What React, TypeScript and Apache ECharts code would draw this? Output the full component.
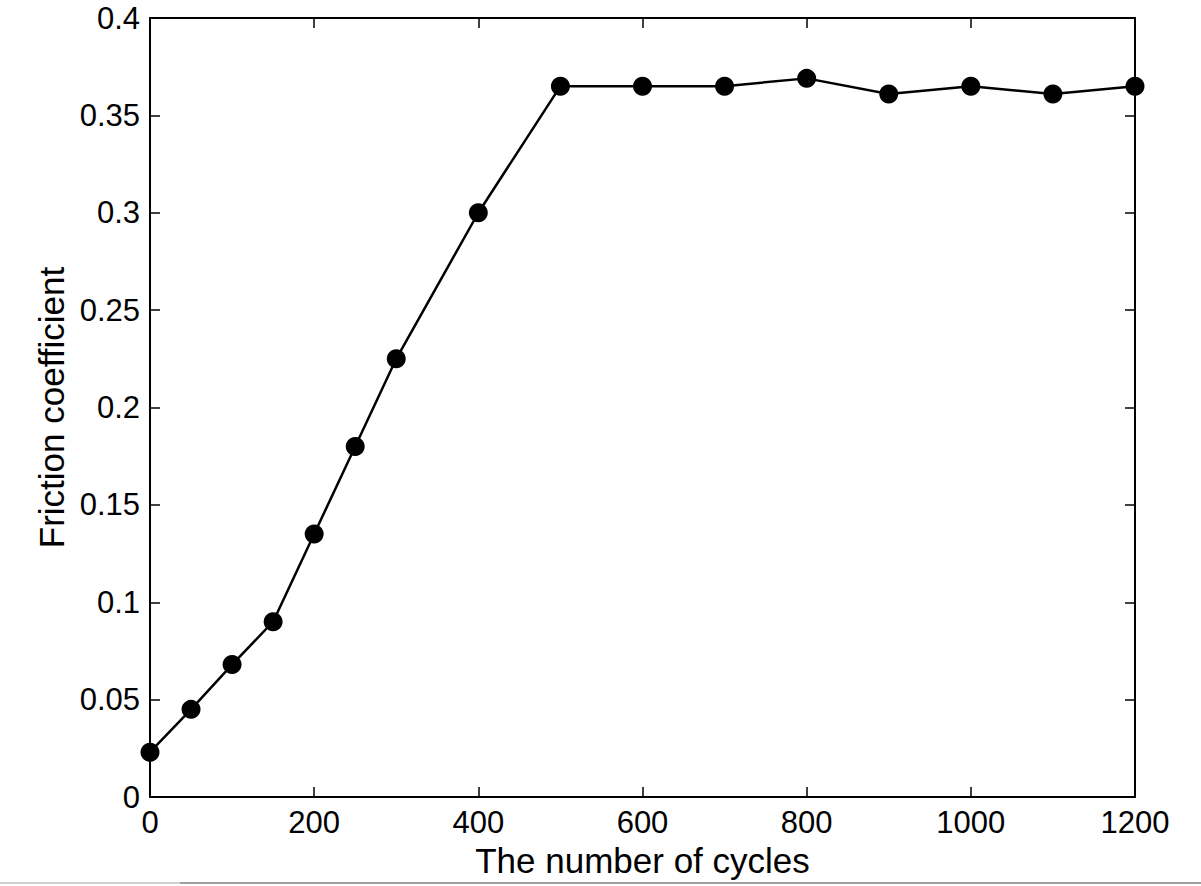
import React, { useEffect, useRef } from "react";
import * as echarts from "echarts";

const cycles = [0, 50, 100, 150, 200, 250, 300, 400, 500, 600, 700, 800, 900, 1000, 1100, 1200];
const friction = [0.023, 0.045, 0.068, 0.09, 0.135, 0.18, 0.225, 0.3, 0.365, 0.365, 0.365, 0.369, 0.361, 0.365, 0.361, 0.365];
const xTitle = "The number of cycles";
const yTitle = "Friction coefficient";

const FONT = "'Liberation Sans', Arial, Helvetica, sans-serif";

export default function App() {
  const ref = useRef<HTMLDivElement>(null);
  useEffect(() => {
    if (!ref.current) return;
    const chart = echarts.init(ref.current, null, { renderer: "svg" });
    const axisLine = { show: true, onZero: false, lineStyle: { color: "#000", width: 2 } };
    const tick = { show: true, inside: true, length: 10, lineStyle: { color: "#000", width: 1.5 } };
    chart.setOption({
      animation: false,
      backgroundColor: "#fff",
      grid: { left: 150, right: 66, top: 18, bottom: 89, containLabel: false },
      xAxis: [
        {
          type: "value",
          min: 0,
          max: 1200,
          interval: 200,
          position: "bottom",
          axisLine,
          axisTick: tick,
          splitLine: { show: false },
          axisLabel: {
            color: "#000",
            fontSize: 31,
            fontFamily: FONT,
            margin: 10,
            formatter: (v: number) => String(v),
          },
          name: xTitle,
          nameLocation: "middle",
          nameGap: 42,
          nameTextStyle: { color: "#000", fontSize: 35, fontFamily: FONT },
        },
        {
          type: "value",
          min: 0,
          max: 1200,
          interval: 200,
          position: "top",
          axisLine,
          axisTick: tick,
          splitLine: { show: false },
          axisLabel: { show: false },
        },
      ],
      yAxis: [
        {
          type: "value",
          min: 0,
          max: 0.4,
          interval: 0.05,
          position: "left",
          axisLine,
          axisTick: tick,
          splitLine: { show: false },
          axisLabel: {
            color: "#000",
            fontSize: 31,
            fontFamily: FONT,
            margin: 10,
            formatter: (v: number) => String(Math.round(v * 100) / 100),
          },
          name: yTitle,
          nameLocation: "middle",
          nameGap: 70,
          nameRotate: 90,
          nameTextStyle: { color: "#000", fontSize: 35, fontFamily: FONT },
        },
        {
          type: "value",
          min: 0,
          max: 0.4,
          interval: 0.05,
          position: "right",
          axisLine,
          axisTick: tick,
          splitLine: { show: false },
          axisLabel: { show: false },
        },
      ],
      graphic: [
        { type: "line", shape: { x1: 0, y1: 883, x2: 180, y2: 883 }, style: { stroke: "#d0d0d0", lineWidth: 2 } },
        { type: "line", shape: { x1: 180, y1: 883, x2: 1201, y2: 883 }, style: { stroke: "#a0a0a0", lineWidth: 2 } },
      ],
      series: [
        {
          type: "line",
          data: cycles.map((c, i) => [c, friction[i]]),
          symbol: "circle",
          symbolSize: 19,
          lineStyle: { color: "#000", width: 2.5 },
          itemStyle: { color: "#000" },
          clip: false,
          z: 5,
        },
      ],
    });
    return () => chart.dispose();
  }, []);
  return (
    <div
      ref={ref}
      style={{ position: "absolute", left: 0, top: 0, width: 1201, height: 886 }}
    />
  );
}
